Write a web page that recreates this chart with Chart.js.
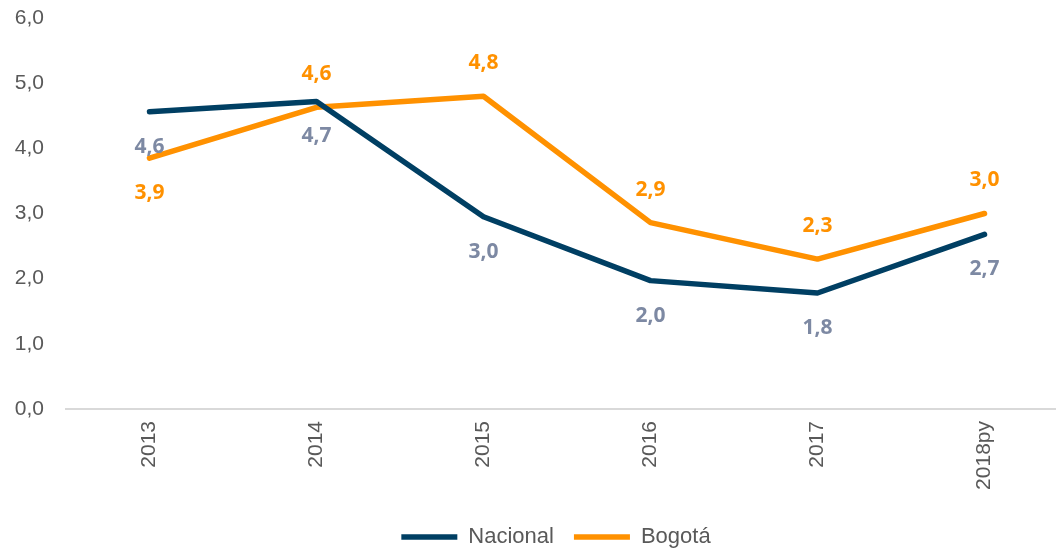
<!DOCTYPE html>
<html>
<head>
<meta charset="utf-8">
<script src="https://cdn.jsdelivr.net/npm/chart.js@4/dist/chart.umd.min.js"></script>
<style>
  html, body { margin: 0; padding: 0; background: #fff; overflow: hidden; }
  /* the original chart runs a little past the right edge of the picture */
  #wrap { width: 1068px; height: 548px; }
</style>
</head>
<body>
<div id="wrap"><canvas id="myChart"></canvas></div>
<script>
// values
const years = ['2013', '2014', '2015', '2016', '2017', '2018py'];
const nacional = [4.56, 4.72, 2.95, 1.97, 1.78, 2.68];
const bogota = [3.85, 4.63, 4.8, 2.86, 2.3, 3.0];
const yTicks = [0, 1, 2, 3, 4, 5, 6];

const fmt = (v) => v.toFixed(1).replace('.', ',');

// draws the value next to each point (no datalabels plugin available)
const valueLabels = {
    id: 'valueLabels',
    afterLayout(chart) {
        // legend sits a little right of centre and lower in the original
        const lg = chart.legend;
        lg.left += 22; lg.right += 22;
        lg.top += 10; lg.bottom += 10;
    },
    afterDatasetsDraw(chart) {
        const ctx = chart.ctx;
        chart.data.datasets.forEach((ds, i) => {
            const meta = chart.getDatasetMeta(i);
            ctx.save();
            ctx.font = 'bold 21px "Open Sans"';
            ctx.fillStyle = ds.labelColor;
            ctx.textAlign = 'center';
            ctx.textBaseline = 'middle';
            meta.data.forEach((pt, j) => {
                const dy = ds.labelSide[j] === 'below' ? 35 : -33;
                ctx.fillText(fmt(ds.data[j]), pt.x, pt.y + dy);
            });
            ctx.restore();
        });
    }
};

const chart = new Chart(document.getElementById('myChart'), {
    type: 'line',
    data: {
        labels: years,
        datasets: [{
            label: 'Nacional',
            data: nacional,
            borderColor: '#003f63',
            backgroundColor: '#003f63',
            borderWidth: 5.5,
            borderCapStyle: 'round',
            borderJoinStyle: 'round',
            pointRadius: 0,
            labelColor: '#7d89a3',
            labelSide: ['below', 'below', 'below', 'below', 'below', 'below']
        }, {
            label: 'Bogotá',
            data: bogota,
            borderColor: '#ff9100',
            backgroundColor: '#ff9100',
            borderWidth: 5.5,
            borderCapStyle: 'round',
            borderJoinStyle: 'round',
            pointRadius: 0,
            labelColor: '#ff9100',
            labelSide: ['below', 'above', 'above', 'above', 'above', 'above']
        }]
    },
    options: {
        responsive: true,
        maintainAspectRatio: false,
        animation: false,
        layout: { padding: { top: 18, right: 0, left: 0, bottom: 0 } },
        plugins: {
            tooltip: { enabled: false },
            legend: {
                position: 'bottom',
                labels: {
                    usePointStyle: true,
                    pointStyle: 'line',
                    pointStyleWidth: 56,
                    color: '#595959',
                    font: { family: '"Liberation Sans"', size: 22 },
                    padding: 20
                }
            }
        },
        scales: {
            x: {
                offset: true,
                grid: { display: false, drawTicks: false },
                border: { color: '#d9d9d9', width: 2 },
                ticks: {
                    minRotation: 90,
                    maxRotation: 90,
                    padding: 12,
                    color: '#595959',
                    font: { family: '"Liberation Sans"', size: 21 }
                },
                afterFit: (s) => { s.height = 87; s.paddingLeft = 0; s.paddingRight = 0; }
            },
            y: {
                min: 0,
                max: 6,
                afterBuildTicks: (s) => { s.ticks = yTicks.map(v => ({ value: v })); },
                grid: { display: false, drawTicks: false },
                border: { display: false },
                ticks: {
                    padding: 22,
                    color: '#595959',
                    font: { family: '"Liberation Sans"', size: 21 },
                    callback: (v) => fmt(v)
                },
                afterFit: (s) => { s.width = 66; s.paddingTop = 0; s.paddingBottom = 0; }
            }
        }
    },
    plugins: [valueLabels]
});
</script>
</body>
</html>
